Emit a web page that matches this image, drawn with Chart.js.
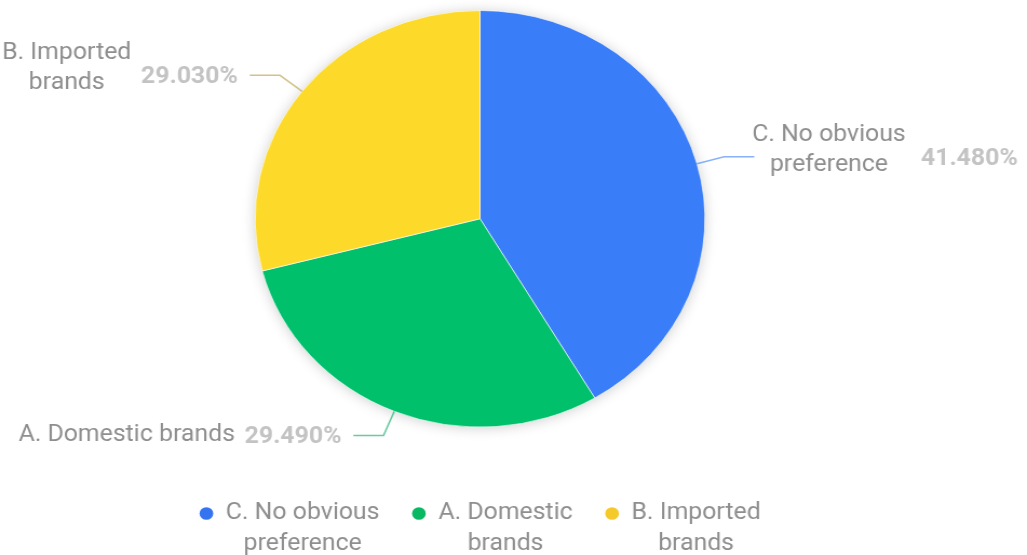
<!DOCTYPE html>
<html><head><meta charset="utf-8">
<script src="https://cdn.jsdelivr.net/npm/chart.js@4.4.0/dist/chart.umd.min.js"></script>
<style>
html,body{margin:0;padding:0;background:#fff;overflow:hidden;width:1027px;height:555px;}
#wrap{position:absolute;left:0;top:0;width:951px;height:555px;transform:scaleX(1.0799);transform-origin:0 0;}
</style></head><body>
<div id="wrap"><canvas id="c"></canvas></div>
<script>
// ---- data ----
const categories = ["C. No obvious preference", "A. Domestic brands", "B. Imported brands"];
const shares = [41.48, 29.49, 29.03];
const percentLabels = ["41.480%", "29.490%", "29.030%"];
const outerLabelLines = [["C. No obvious", "preference"], ["A. Domestic brands"], ["B. Imported", "brands"]];
const legendLabelLines = [["C. No obvious", "preference"], ["A. Domestic", "brands"], ["B. Imported", "brands"]];

// ---- style ----
const sliceColors = ["#3a7df8", "#00c06c", "#fdda2a"];
const legendColors = ["#3574f0", "#09b862", "#f6c92a"];
const leaderColors = ["rgba(58,125,248,0.6)", "rgba(0,170,100,0.6)", "rgba(190,170,90,0.7)"];
const nameColor = "#8e8e8e";
const pctColor = "#c3c3c3";

const multiLineMeasure = {
  id: 'multiLineMeasure',
  beforeInit(chart) {
    const ctx = chart.ctx;
    const orig = ctx.measureText.bind(ctx);
    ctx.measureText = (t) => Array.isArray(t)
      ? t.map(s => orig(String(s))).reduce((a, b) => (a.width >= b.width ? a : b))
      : orig(t);
  },
  beforeUpdate(chart) {
    const lg = chart.legend;
    if (lg && !lg._extraHeight) {
      const f = lg.fit;
      lg.fit = function () { f.call(this); this.height += 20; };
      lg._extraHeight = true;
    }
  }
};

const pieShadow = {
  id: 'pieShadow',
  beforeDatasetsDraw(chart) {
    const arc = chart.getDatasetMeta(0).data[0];
    if (!arc) return;
    const p = arc.getProps(['x', 'y', 'outerRadius'], true);
    const ctx = chart.ctx;
    ctx.save();
    ctx.shadowColor = 'rgba(0,0,0,0.22)';
    ctx.shadowBlur = 14;
    ctx.shadowOffsetY = 1;
    ctx.fillStyle = '#ffffff';
    ctx.beginPath();
    ctx.arc(p.x, p.y, p.outerRadius - 1, 0, Math.PI * 2);
    ctx.fill();
    ctx.restore();
  }
};

const outerLabels = {
  id: 'outerLabels',
  afterDatasetsDraw(chart) {
    const ctx = chart.ctx;
    const meta = chart.getDatasetMeta(0);
    const nameFont = '400 23px Roboto';
    const pctFont = '700 23px Roboto';
    meta.data.forEach((arc, i) => {
      const p = arc.getProps(['x', 'y', 'startAngle', 'endAngle', 'outerRadius'], true);
      const mid = (p.startAngle + p.endAngle) / 2;
      const cos = Math.cos(mid), sin = Math.sin(mid);
      const r0 = p.outerRadius, r1 = p.outerRadius + 26;
      const x0 = p.x + cos * r0, y0 = p.y + sin * r0;
      const x1 = p.x + cos * r1, y1 = p.y + sin * r1;
      const right = cos >= 0;
      const x2 = x1 + (right ? 28 : -28);
      ctx.save();
      ctx.strokeStyle = leaderColors[i];
      ctx.lineWidth = 1.5;
      ctx.beginPath();
      ctx.moveTo(x0, y0); ctx.lineTo(x1, y1); ctx.lineTo(x2, y1);
      ctx.stroke();

      const lines = outerLabelLines[i];
      ctx.font = nameFont;
      const nameW = Math.max(...lines.map(l => ctx.measureText(l).width));
      ctx.font = pctFont;
      const pctW = ctx.measureText(percentLabels[i]).width;
      let nameLeft, pctLeft;
      if (right) {
        nameLeft = x2 - 2;
        pctLeft = nameLeft + nameW + 14;
      } else {
        pctLeft = x2 - 11 - pctW;
        nameLeft = pctLeft - 9 - nameW;
      }
      const lh = 30;
      const blockCenter = y1 - (lines.length > 1 ? 7 : 0);
      ctx.textBaseline = 'middle';
      ctx.font = nameFont;
      ctx.fillStyle = nameColor;
      ctx.textAlign = 'center';
      lines.forEach((l, k) => {
        ctx.fillText(l, nameLeft + nameW / 2, blockCenter + (k - (lines.length - 1) / 2) * lh);
      });
      ctx.font = pctFont;
      ctx.fillStyle = pctColor;
      ctx.textAlign = 'left';
      ctx.fillText(percentLabels[i], pctLeft, y1 + 2);
      ctx.restore();
    });
  }
};

new Chart(document.getElementById('c'), {
  type: 'pie',
  data: {
    labels: categories,
    datasets: [{
      data: shares,
      backgroundColor: sliceColors,
      borderColor: 'rgba(255,255,255,0.6)',
      borderWidth: 1,
      hoverOffset: 0
    }]
  },
  options: {
    responsive: true,
    maintainAspectRatio: false,
    animation: false,
    layout: { padding: { top: 10, left: 0, right: 62, bottom: 0 } },
    plugins: {
      tooltip: { enabled: false },
      legend: {
        position: 'bottom',
        title: { display: true, text: '', padding: 15, font: { size: 12, lineHeight: 1.2 } },
        labels: {
          usePointStyle: true,
          pointStyle: 'circle',
          boxWidth: 13,
          boxHeight: 9,
          padding: 30,
          color: nameColor,
          textAlign: 'center',
          font: { family: 'Roboto', size: 23, lineHeight: 1.35 },
          generateLabels() {
            return legendLabelLines.map((t, i) => ({
              text: t,
              fillStyle: legendColors[i],
              strokeStyle: legendColors[i],
              lineWidth: 0,
              pointStyle: 'circle',
              hidden: false,
              index: i,
              fontColor: nameColor
            }));
          }
        }
      }
    }
  },
  plugins: [multiLineMeasure, pieShadow, outerLabels]
});
</script>
</body></html>
